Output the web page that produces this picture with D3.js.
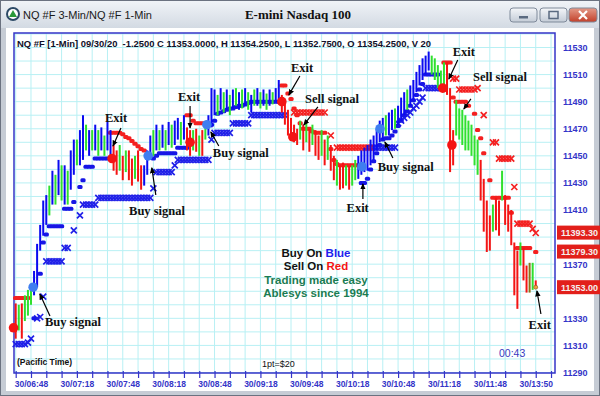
<!DOCTYPE html>
<html>
<head>
<meta charset="utf-8">
<script src="https://cdn.jsdelivr.net/npm/d3@7"></script>
<style>
body { margin: 0; background: #fff; }
svg { display: block; }
</style>
</head>
<body>
<svg id="chart" width="600" height="396"></svg>
<script>
// 2-minute bars, high / low / colour (b = buy, g = neutral, r = sell, o = last)
const highs = [11341,11340,11341,11347,11351,11354,11365,11385,11399,11417,
  11421,11428,11439,11436,11447,11443,11443,11439,11454,11462,
  11462,11469,11480,11473,11469,11469,11473,11469,11471,11465,
  11475,11469,11458,11454,11458,11450,11454,11454,11448,11450,
  11454,11443,11443,11454,11465,11469,11473,11469,11473,11469,
  11475,11473,11476,11478,11475,11480,11471,11469,11469,11470,
  11465,11469,11475,11480,11500,11499,11495,11500,11497,11499,
  11495,11499,11500,11497,11499,11500,11497,11495,11499,11500,
  11497,11499,11496,11499,11497,11500,11506,11495,11491,11484,
  11478,11473,11470,11476,11473,11475,11470,11473,11469,11465,
  11469,11462,11465,11458,11450,11447,11443,11445,11443,11442,
  11443,11447,11450,11454,11456,11458,11462,11465,11470,11476,
  11478,11480,11482,11484,11485,11487,11493,11497,11499,11502,
  11506,11512,11517,11522,11524,11527,11524,11522,11517,11513,
  11519,11519,11500,11469,11491,11485,11484,11480,11476,11473,
  11465,11462,11447,11433,11417,11406,11414,11419,11417,11439,
  11421,11414,11410,11386,11380,11386,11382,11369,11371,11371,11358];
const lows = [11315,11321,11315,11328,11332,11340,11347,11353,11380,11391,
  11399,11406,11414,11414,11421,11417,11414,11414,11425,11436,
  11443,11443,11447,11454,11450,11454,11454,11450,11454,11450,
  11454,11450,11439,11436,11439,11432,11438,11432,11428,11433,
  11431,11425,11428,11436,11447,11450,11454,11454,11456,11454,
  11458,11456,11458,11462,11458,11462,11454,11450,11454,11453,
  11450,11450,11462,11465,11471,11480,11480,11484,11482,11484,
  11480,11485,11487,11484,11485,11487,11484,11482,11487,11487,
  11485,11487,11484,11487,11488,11490,11491,11482,11473,11465,
  11462,11460,11458,11462,11454,11460,11453,11458,11450,11447,
  11450,11443,11447,11439,11432,11428,11425,11426,11428,11425,
  11428,11432,11433,11436,11438,11439,11443,11447,11454,11460,
  11462,11465,11465,11469,11470,11473,11476,11480,11484,11487,
  11491,11497,11502,11506,11510,11513,11510,11506,11500,11499,
  11497,11495,11438,11443,11465,11462,11458,11454,11454,11450,
  11443,11436,11417,11394,11379,11380,11394,11395,11391,11417,
  11399,11394,11384,11347,11337,11369,11358,11349,11349,11351,11352];
const barColours = "rgrgggbbbb" + "bgbgbgbgbb" + "gbbgbgbgbg" + "bbrrgrgrrg" + "rrbbbgbgbg" +
  "bgbbgbrrgr" + "grgbbbgbgb" + "gbgbgbgbgb" + "gbgbgbbrrr" + "rrrgrgrgrr" +
  "grgrrgrrgr" + "ggbbbbbbbb" + "bgbbgbbbgb" + "bbbbbbgggg" + "grrrgggggg" +
  "ggrrrrgrrg" + "rrrrrgrrogr";

// trailing stops [bar, price]
const blueStops = [[6,11330],[8,11363],[9,11386],[10,11392],[11,11398],[12,11398],[13,11398],[14,11398],[15,11398],
  [16,11411],[17,11411],[18,11411],[19,11416],[21,11427],[22,11432],[23,11442],[24,11442],[25,11442],
  [26,11448],[27,11448],[28,11448],[29,11448],[30,11448],[31,11448],
  [45,11448],[46,11450],[47,11452],[48,11452],[49,11452],[50,11452],[51,11452],[52,11452],
  [53,11456],[54,11456],[55,11456],[56,11456],
  [64,11473],[65,11476],[66,11481],[67,11482],[68,11483],[69,11484],[70,11485],[71,11485],[72,11486],
  [73,11487],[74,11487],[75,11488],[76,11489],[77,11490],[78,11490],[79,11490],[80,11490],[81,11490],
  [82,11490],[83,11490],[84,11490],[85,11490],[86,11490],
  [113,11430],[114,11430],[115,11433],[116,11440],[117,11446],[118,11452],[119,11458],[120,11462],
  [121,11463],[122,11463],[123,11465],[124,11468],[125,11472],[126,11476],[127,11480],[128,11483],
  [129,11487],[130,11491],[131,11495],[132,11499],[133,11503],[134,11510],[135,11510],[136,11510],
  [137,11510],[138,11510]];
const blueCross = [[0,11311],[1,11311],[2,11311],[3,11311],[4,11312],[5,11315],[7,11330],[8,11331],[9,11346],
  [10,11372],[11,11372],[12,11372],[13,11372],[14,11372],[15,11372],[16,11382],[17,11382],[19,11395],
  [21,11406],[22,11414],[23,11414],[24,11414],[25,11414],[26,11414],
  [27,11419],[28,11419],[29,11419],[30,11419],[31,11419],[32,11419],[33,11419],[34,11419],[35,11419],
  [36,11419],[37,11419],[38,11419],[39,11419],[40,11419],[41,11419],[42,11419],[43,11419],[44,11419],
  [45,11426],[46,11438],[47,11438],[48,11438],[49,11438],[50,11438],[51,11438],[52,11443],
  [53,11447],[54,11447],[55,11447],[56,11447],[57,11447],[58,11447],[59,11447],[60,11447],[61,11447],
  [62,11447],[63,11447],[64,11462],[65,11467],[66,11467],[67,11467],[68,11467],[69,11467],[70,11467],
  [71,11474],[72,11474],[73,11474],[74,11474],[75,11474],[76,11474],
  [77,11480],[78,11480],[79,11480],[80,11480],[81,11480],[82,11480],[83,11480],[84,11480],[85,11480],
  [86,11480],[87,11480],[88,11480],
  [117,11456],[118,11456],[119,11456],[120,11456],[121,11456],[122,11456],[123,11456],[124,11456],
  [125,11474],[126,11476],[127,11478],[128,11480],[129,11482],[130,11485],[131,11487],[132,11490],
  [133,11493],[134,11500],[135,11500],[136,11500],[137,11500],[138,11500],[139,11500],[140,11500]];
const redStops = [[0,11345],[1,11345],[2,11345],[3,11345],[4,11345],
  [31,11467],[32,11467],[33,11467],[34,11467],[35,11466],[36,11464],[37,11463],[38,11461],[39,11459],
  [40,11457],[41,11455],[42,11454],
  [56,11480],[57,11480],[58,11476],[59,11474],[60,11474],[61,11474],
  [87,11502],[88,11502],[89,11496],[90,11492],[91,11485],[92,11480],[93,11474],[94,11470],[95,11470],
  [96,11470],[97,11468],[98,11467],[99,11467],[100,11467],[101,11467],[103,11455],[104,11447],
  [105,11444],[106,11443],[107,11443],[108,11443],[109,11443],[110,11443],[111,11443],[112,11443],
  [140,11519],[141,11519],[142,11519],[143,11493],[144,11490],[145,11490],[146,11490],[147,11490],
  [148,11487],[150,11481],[151,11469],[152,11463],[153,11452],[155,11432],[156,11419],[157,11419],
  [158,11419],[159,11419],[160,11419],[161,11419],[162,11408],[164,11382],[165,11382],[166,11382],
  [167,11382],[168,11382],[170,11379]];
const redCross = [[91,11482],[92,11482],[93,11482],[94,11482],[95,11482],[96,11482],[97,11482],[98,11482],
  [99,11482],[100,11482],[101,11482],[103,11465],
  [105,11456],[106,11456],[107,11456],[108,11456],[109,11456],[110,11456],[111,11456],[112,11456],
  [113,11456],[114,11456],[115,11456],[116,11456],
  [143,11507],[144,11507],[145,11499],[146,11499],[147,11499],[148,11499],[149,11499],[150,11499],
  [151,11500],[153,11480],[156,11460],[157,11460],[158,11448],[159,11448],[160,11448],[161,11448],
  [162,11448],[163,11427],[164,11400],[165,11400],[166,11400],[167,11400],[168,11400],[169,11396],
  [170,11393]];

const blueSignals = [[5.7,11353],[43.3,11450],[62.5,11473],[113.2,11442],[119.1,11470]];
const redSignals = [[-0.7,11323],[31.5,11448],[57,11460],[87,11490],[90.6,11464],[139.6,11500],[142.6,11458]];
const lastBar = [[170,11353]];

// annotations: text anchor [bar, price], arrow from -> to
const notes = [
  { text: "Exit",        at: [32.8,11478],  from: [34.4,11470.6], to: [31.8,11457.3] },
  { text: "Exit",        at: [56.7,11493.5],from: [57.0,11486.8], to: [57.0,11470.6] },
  { text: "Buy signal",  at: [18.7,11327.3],from: [11.2,11331.7], to: [7.9,11348.0] },
  { text: "Buy signal",  at: [46.2,11409.3],from: [45.8,11421.1], to: [44.5,11441.1] },
  { text: "Buy signal",  at: [73.6,11452.1],from: [66.4,11457.3], to: [63.8,11467.6] },
  { text: "Exit",        at: [93.6,11514.9],from: [92.9,11509.0], to: [89.3,11495.0] },
  { text: "Sell signal", at: [103.4,11492.7],from: [98.8,11486.1],to: [94.2,11472.8] },
  { text: "Exit",        at: [111.8,11411.5],from: [113.5,11418.1],to: [113.5,11429.2] },
  { text: "Buy signal",  at: [127.5,11441.8],from: [123.3,11448.4],to: [120.7,11460.2] },
  { text: "Exit",        at: [146.5,11526.7],from: [144.5,11520.8],to: [141.6,11506.8] },
  { text: "Sell signal", at: [158.3,11508.3],from: [148.8,11492.0],to: [146.5,11484.6] },
  { text: "Exit",        at: [171.3,11325.8],from: [171.7,11333.2],to: [170.4,11350.2] }
];

const xLabels = ["30/06:48","30/07:18","30/07:48","30/08:18","30/08:48","30/09:18",
  "30/09:48","30/10:18","30/10:48","30/11:18","30/11:48","30/13:50"];
// 11390 and 11350 sit under the last-price boxes, so they are not printed
const yTicks = [11290,11310,11330,11370,11410,11430,11450,11470,11490,11510,11530];
const lastPrices = ["11393.30","11379.30","11353.00"];

const svg = d3.select("#chart");
const plot = { left: 14, right: 555, top: 33, bottom: 373 };
const x = d3.scaleLinear().domain([0, 176.3]).range([15.7, 555]);
const y = d3.scaleLinear().domain([11290, 11530]).range([372.5, 47.5]);
const colourOf = { b: "#0a0af0", g: "#2fe02f", r: "#f41414", o: "#8a7418" };
const sans = "'Liberation Sans', Arial, sans-serif";
const serif = "'Liberation Serif', 'Times New Roman', serif";

// ---- window chrome
const defs = svg.append("defs");
const tg = defs.append("linearGradient").attr("id", "tbar").attr("x1", 0).attr("y1", 0).attr("x2", 0).attr("y2", 1);
tg.append("stop").attr("offset", 0).attr("stop-color", "#f1f4f8");
tg.append("stop").attr("offset", 1).attr("stop-color", "#d3dae3");
const bg = defs.append("linearGradient").attr("id", "btn").attr("x1", 0).attr("y1", 0).attr("x2", 0).attr("y2", 1);
bg.append("stop").attr("offset", 0).attr("stop-color", "#f4f6f9");
bg.append("stop").attr("offset", 1).attr("stop-color", "#c4ccd7");
const cg = defs.append("linearGradient").attr("id", "cbtn").attr("x1", 0).attr("y1", 0).attr("x2", 0).attr("y2", 1);
cg.append("stop").attr("offset", 0).attr("stop-color", "#e49a88");
cg.append("stop").attr("offset", 1).attr("stop-color", "#c2402a");
defs.append("marker").attr("id", "arrow").attr("viewBox", "0 0 8 8").attr("refX", 6).attr("refY", 4)
  .attr("markerWidth", 6).attr("markerHeight", 6).attr("orient", "auto")
  .append("path").attr("d", "M0,1L7,4L0,7z").attr("fill", "#000");
defs.append("clipPath").attr("id", "plotclip").append("rect")
  .attr("x", plot.left).attr("y", plot.top).attr("width", plot.right - plot.left).attr("height", plot.bottom - plot.top);

svg.append("rect").attr("width", 600).attr("height", 396).attr("fill", "#fff");
svg.append("rect").attr("width", 600).attr("height", 28).attr("fill", "url(#tbar)");
svg.append("rect").attr("x", 0).attr("y", 28).attr("width", 6).attr("height", 368).attr("fill", "#c6ccd5");
svg.append("rect").attr("x", 594).attr("y", 28).attr("width", 6).attr("height", 368).attr("fill", "#c6ccd5");
svg.append("rect").attr("x", 0).attr("y", 391).attr("width", 600).attr("height", 5).attr("fill", "#c6ccd5");
svg.append("rect").attr("x", 0.5).attr("y", 0.5).attr("width", 599).attr("height", 395)
  .attr("fill", "none").attr("stroke", "#6b7280");

// title bar icon and texts
const icon = svg.append("g").attr("transform", "translate(13,14)");
icon.append("circle").attr("r", 7).attr("fill", "#2c4a66");
icon.append("circle").attr("r", 5).attr("fill", "#fff");
icon.append("path").attr("d", "M0,-4L4,3L-4,3z").attr("fill", "#2a9a3a");
svg.append("text").attr("x", 23).attr("y", 19).attr("font-family", sans).attr("font-size", 11)
  .attr("fill", "#1a1a1a").text("NQ #F 3-Min/NQ #F 1-Min");
svg.append("text").attr("x", 298).attr("y", 19).attr("text-anchor", "middle").attr("font-family", serif)
  .attr("font-weight", "bold").attr("font-size", 13).attr("fill", "#111").text("E-mini Nasdaq 100");

const btns = [[510, 27, "url(#btn)"], [540, 27, "url(#btn)"], [569, 28, "url(#cbtn)"]];
svg.selectAll("rect.btn").data(btns).enter().append("rect").attr("class", "btn")
  .attr("x", d => d[0]).attr("y", 8).attr("width", d => d[1]).attr("height", 14).attr("rx", 3)
  .attr("fill", d => d[2]).attr("stroke", "#7f8a9a");
svg.append("rect").attr("x", 519).attr("y", 16).attr("width", 9).attr("height", 2.5).attr("fill", "#5a6a80");
svg.append("rect").attr("x", 549).attr("y", 11.5).attr("width", 9).attr("height", 7).attr("fill", "none")
  .attr("stroke", "#5a6a80").attr("stroke-width", 1.5);
svg.append("path").attr("d", "M579,11L587,19M587,11L579,19").attr("stroke", "#fff").attr("stroke-width", 2.2);

// ---- grid
const grid = svg.append("g").attr("clip-path", "url(#plotclip)");
grid.selectAll("line.v").data(d3.range(0, 177, 5)).enter().append("line")
  .attr("x1", d => x(d)).attr("x2", d => x(d)).attr("y1", plot.top).attr("y2", plot.bottom)
  .attr("stroke", "#b8f0f4").attr("stroke-width", 1);
grid.selectAll("line.h").data(d3.range(11290, 11541, 10)).enter().append("line")
  .attr("x1", plot.left).attr("x2", plot.right).attr("y1", d => y(d)).attr("y2", d => y(d))
  .attr("stroke", "#b8f0f4").attr("stroke-width", 1);

svg.append("rect").attr("x", plot.left).attr("y", plot.top).attr("width", plot.right - plot.left)
  .attr("height", plot.bottom - plot.top).attr("fill", "none").attr("stroke", "#3434c8").attr("stroke-width", 1.5);

// ---- axes
const labelAt = new Map(xLabels.map((l, i) => [5 + 15 * i, l]));
const xAxis = d3.axisBottom(x).tickValues(d3.range(0, 177, 5)).tickSize(7).tickPadding(3)
  .tickFormat(k => labelAt.get(k) || "");
const gx = svg.append("g").attr("transform", `translate(0,${plot.bottom - 2})`).call(xAxis);
gx.select(".domain").remove();
gx.selectAll("line").attr("stroke", "#3434c8").attr("stroke-width", 1.2);
gx.selectAll("text").attr("font-family", sans).attr("font-weight", "bold").attr("font-size", 8.5).attr("fill", "#3434c8");

const yAxis = d3.axisRight(y).tickValues(yTicks).tickSize(0).tickPadding(8).tickFormat(d3.format("d"));
const gy = svg.append("g").attr("transform", `translate(${plot.right},0)`).call(yAxis);
gy.select(".domain").remove();
gy.selectAll("text").attr("font-family", sans).attr("font-weight", "bold").attr("font-size", 9).attr("fill", "#3434c8");

// ---- stops and crosses
function stops(data, colour) {
  svg.append("g").selectAll("rect").data(data).enter().append("rect")
    .attr("x", d => x(d[0]) - 2.6).attr("y", d => y(d[1]) - 2).attr("width", 5.2).attr("height", 4)
    .attr("rx", 1.5).attr("fill", colour);
}
function crosses(data, colour) {
  svg.append("g").selectAll("path").data(data).enter().append("path")
    .attr("transform", d => `translate(${x(d[0])},${y(d[1])})`)
    .attr("d", "M-3,-3L3,3M-3,3L3,-3").attr("stroke", colour).attr("stroke-width", 1.7).attr("fill", "none");
}
crosses(blueCross, "#2020e8");
crosses(redCross, "#f42020");
stops(blueStops, "#1616e6");
stops(redStops, "#f42020");

// ---- price bars
const idx = d3.range(highs.length);
svg.append("g").selectAll("rect").data(idx).enter().append("rect")
  .attr("x", i => x(i) - 1).attr("width", 2)
  .attr("y", i => y(highs[i])).attr("height", i => Math.max(1.5, y(lows[i]) - y(highs[i])))
  .attr("fill", i => colourOf[barColours[i]]);

// ---- signal dots
svg.append("g").selectAll("circle").data(blueSignals).enter().append("circle")
  .attr("cx", d => x(d[0])).attr("cy", d => y(d[1])).attr("r", 4.8).attr("fill", "#3f7ef0");
svg.append("g").selectAll("circle").data(redSignals).enter().append("circle")
  .attr("cx", d => x(d[0])).attr("cy", d => y(d[1])).attr("r", 4.8).attr("fill", "#f41414");
svg.append("g").selectAll("circle").data(lastBar).enter().append("circle")
  .attr("cx", d => x(d[0])).attr("cy", d => y(d[1])).attr("r", 2).attr("fill", "#f0a040")
  .attr("stroke", "#7a5a20").attr("stroke-width", 0.6);

// ---- annotations
const ann = svg.append("g");
ann.selectAll("line").data(notes).enter().append("line")
  .attr("x1", d => x(d.from[0])).attr("y1", d => y(d.from[1]))
  .attr("x2", d => x(d.to[0])).attr("y2", d => y(d.to[1]))
  .attr("stroke", "#000").attr("stroke-width", 1.2).attr("marker-end", "url(#arrow)");
ann.selectAll("text").data(notes).enter().append("text")
  .attr("x", d => x(d.at[0])).attr("y", d => y(d.at[1]) + 4.5).attr("text-anchor", "middle")
  .attr("font-family", serif).attr("font-weight", "bold").attr("font-size", 12.5).attr("fill", "#111")
  .text(d => d.text);

// ---- texts
svg.append("text").attr("x", 17).attr("y", 46.5).attr("font-family", sans).attr("font-weight", "bold")
  .attr("font-size", 8.5).attr("fill", "#101028").style("white-space", "pre")
  .attr("textLength", 414).attr("lengthAdjust", "spacingAndGlyphs")
  .text("NQ #F [1-Min] 09/30/20  -1.2500 C 11353.0000, H 11354.2500, L 11352.7500, O 11354.2500, V 20");
svg.append("text").attr("x", 17).attr("y", 365).attr("font-family", sans).attr("font-weight", "bold")
  .attr("font-size", 8.5).attr("fill", "#111").text("(Pacific Time)");
svg.append("text").attr("x", 262).attr("y", 367).attr("font-family", sans)
  .attr("font-size", 9).attr("fill", "#111").text("1pt=$20");
svg.append("text").attr("x", 499).attr("y", 357).attr("font-family", sans)
  .attr("font-size", 10.5).attr("fill", "#3a3ac0").text("00:43");

const mid = [
  [257, [["Buy On ", "#111"], ["Blue", "#2020ee"]]],
  [270, [["Sell On ", "#111"], ["Red", "#f41414"]]],
  [283.5, [["Trading made easy", "#1a7c52"]]],
  [297, [["Ablesys since 1994", "#1a7c52"]]]
];
mid.forEach(([yy, parts]) => {
  const t = svg.append("text").attr("x", 316).attr("y", yy).attr("text-anchor", "middle")
    .attr("font-family", sans).attr("font-weight", "bold").attr("font-size", 11.5).style("white-space", "pre");
  parts.forEach(p => t.append("tspan").attr("fill", p[1]).text(p[0]));
});

// ---- last price boxes
const boxes = svg.append("g").selectAll("g").data(lastPrices).enter().append("g")
  .attr("transform", d => `translate(557,${y(+d)})`);
boxes.append("rect").attr("x", 0).attr("y", -7).attr("width", 46).attr("height", 14).attr("fill", "#e21f1a");
boxes.append("text").attr("x", 4).attr("y", 3.3).attr("font-family", sans).attr("font-weight", "bold")
  .attr("font-size", 9).attr("fill", "#f4f0f0").text(d => d);
</script>
</body>
</html>
